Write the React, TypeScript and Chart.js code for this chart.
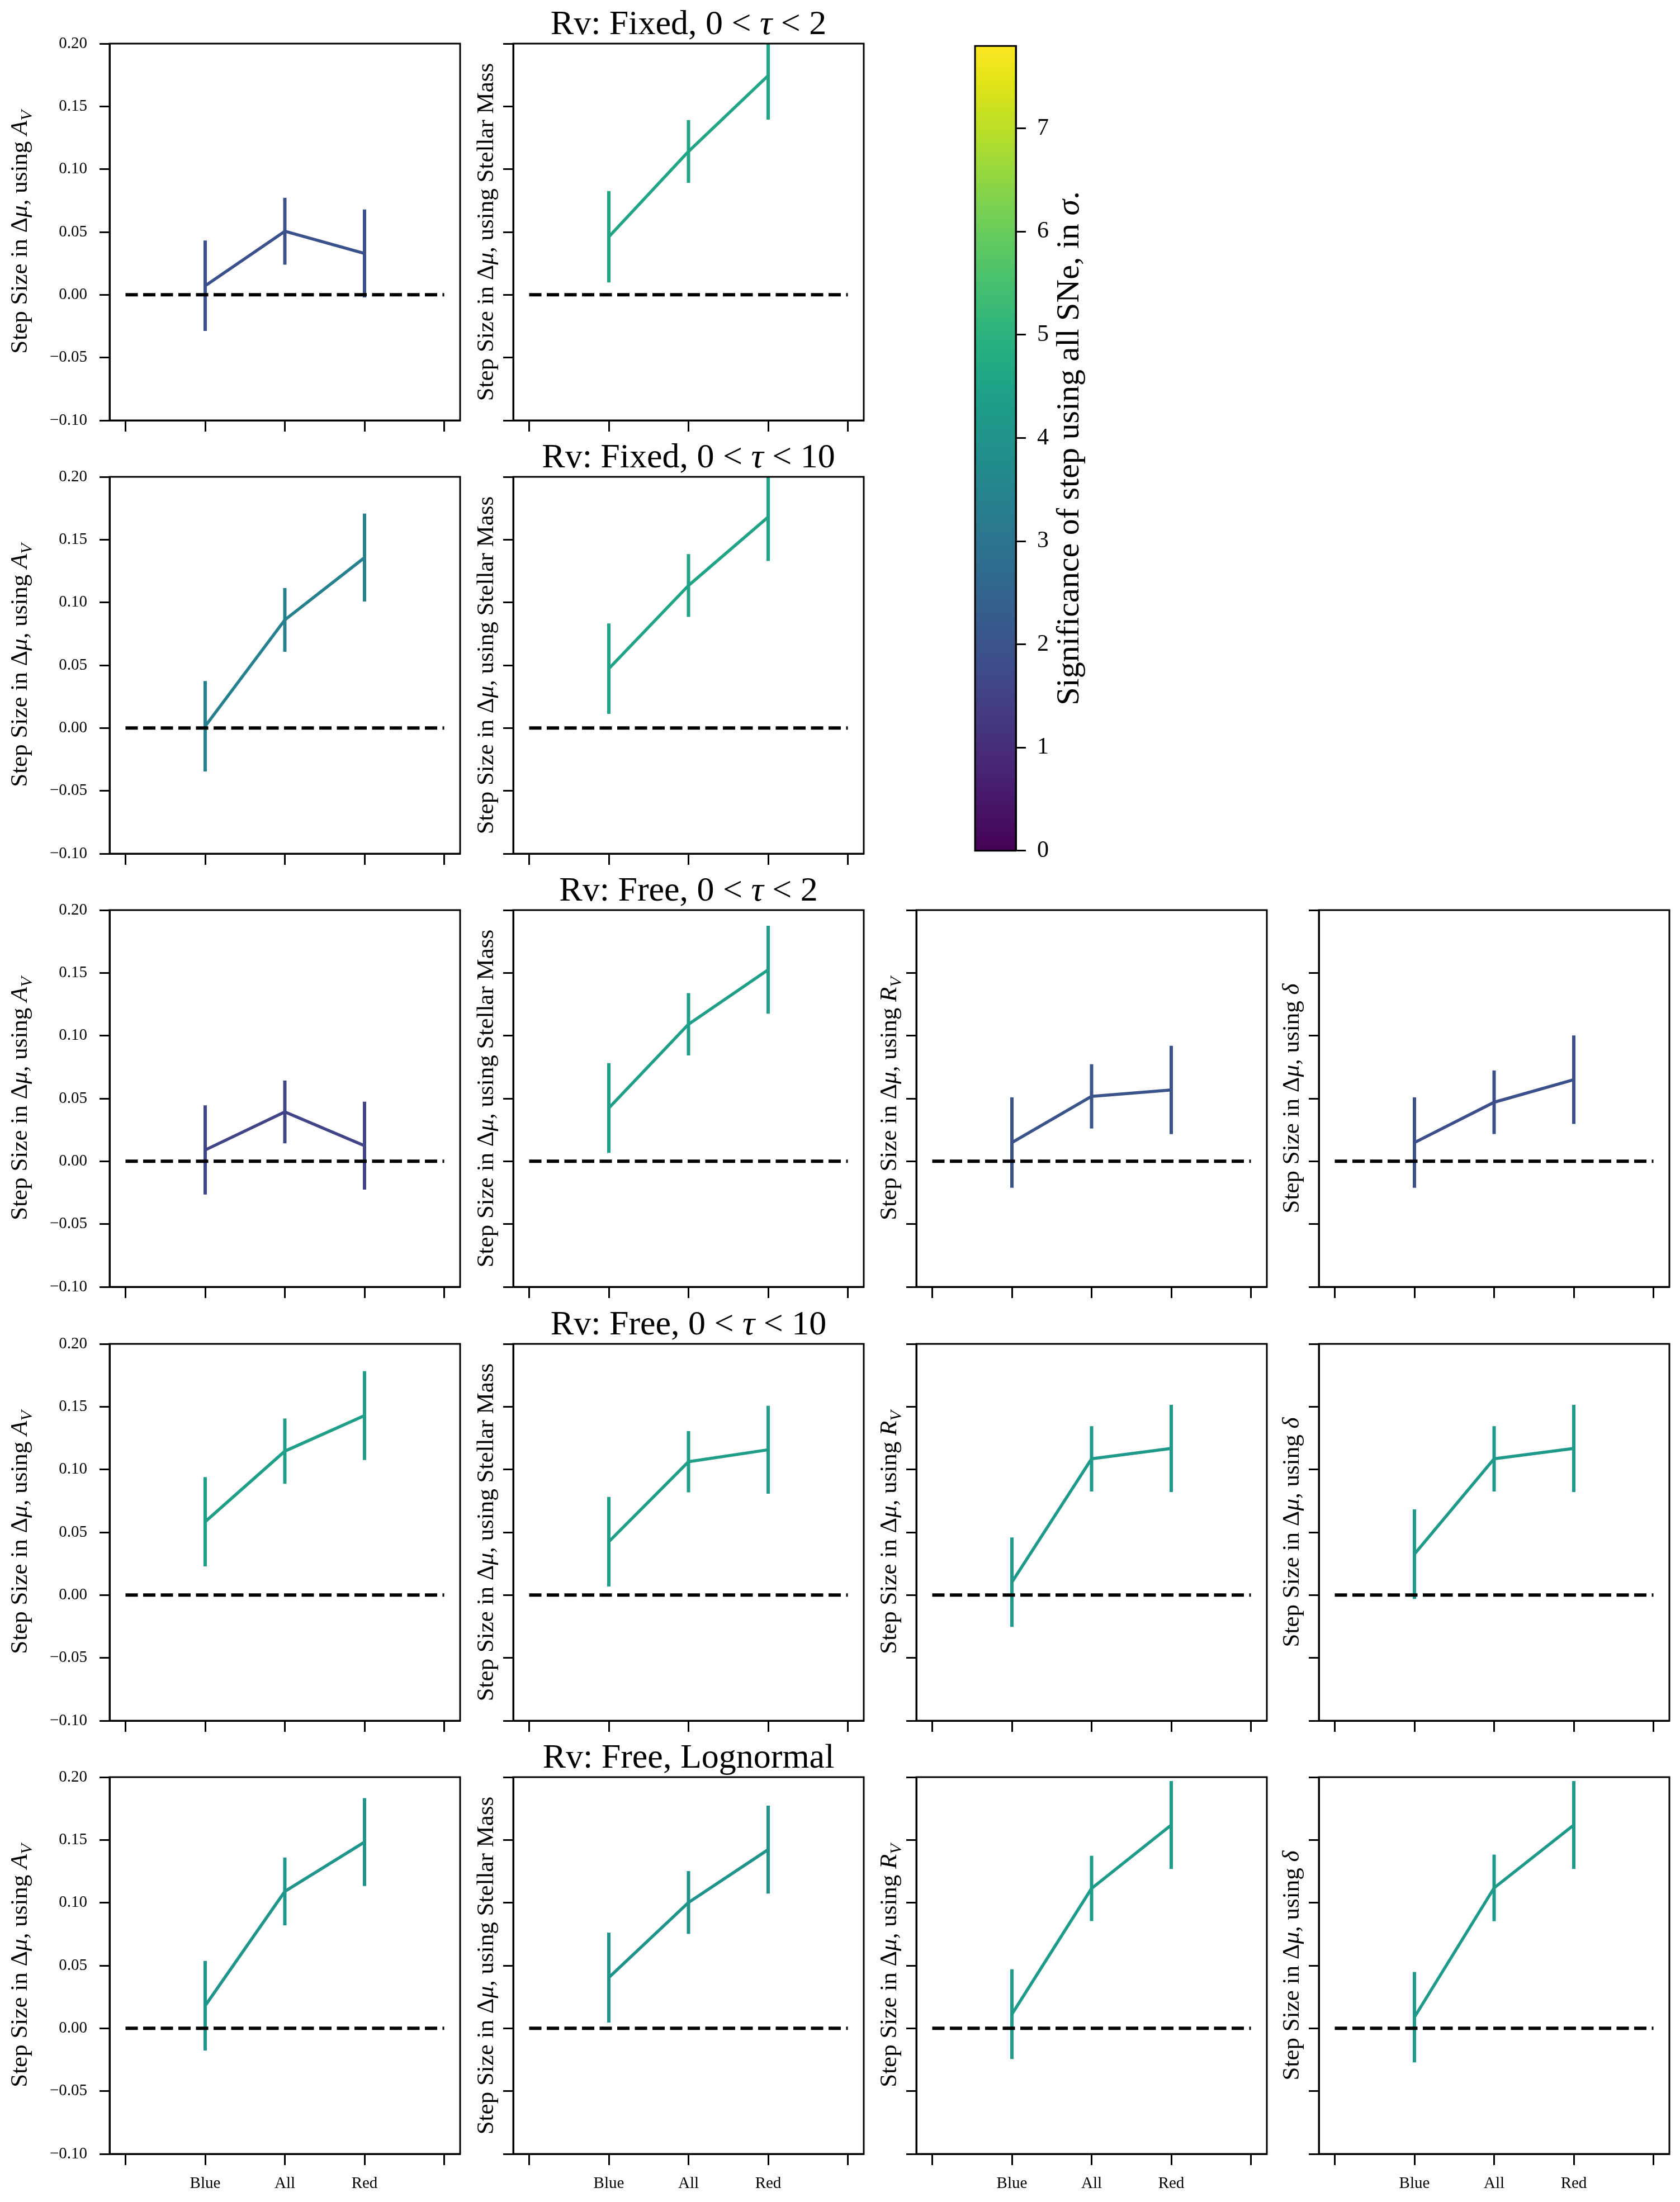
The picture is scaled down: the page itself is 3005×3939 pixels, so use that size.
import React, { useEffect, useRef } from 'react';
import { Chart, registerables } from 'chart.js';

Chart.register(...registerables);

// ---------------- data ----------------
const categories = ['Blue', 'All', 'Red'];
const xTickLabels = ['', 'Blue', 'All', 'Red', ''];
const yTickValues = [-0.1, -0.05, 0, 0.05, 0.1, 0.15, 0.2];
const colorbarTickValues = [0, 1, 2, 3, 4, 5, 6, 7];
const colorbarMax = 7.8;

const rowTitles = [
  'Rv: Fixed, 0 < τ < 2',
  'Rv: Fixed, 0 < τ < 10',
  'Rv: Free, 0 < τ < 2',
  'Rv: Free, 0 < τ < 10',
  'Rv: Free, Lognormal',
];

// step sizes (Blue, All, Red) per column: A_V, Stellar Mass, R_V, delta
const fixedTau2Steps = [
  [0.0072, 0.0506, 0.0329],
  [0.0462, 0.1141, 0.1745],
];
const fixedTau2Errors = [
  [0.036, 0.0266, 0.035],
  [0.0364, 0.025, 0.035],
];
const fixedTau2Sigma = [1.92, 4.57];

const fixedTau10Steps = [
  [0.0014, 0.0861, 0.1357],
  [0.0473, 0.1135, 0.168],
];
const fixedTau10Errors = [
  [0.036, 0.0254, 0.035],
  [0.036, 0.025, 0.035],
];
const fixedTau10Sigma = [3.39, 4.55];

const freeTau2Steps = [
  [0.009, 0.0393, 0.0124],
  [0.0424, 0.1091, 0.1525],
  [0.0149, 0.0517, 0.0568],
  [0.0149, 0.047, 0.065],
];
const freeTau2Errors = [
  [0.0355, 0.025, 0.035],
  [0.0357, 0.0248, 0.035],
  [0.036, 0.0256, 0.0352],
  [0.036, 0.0253, 0.0352],
];
const freeTau2Sigma = [1.57, 4.4, 2.02, 1.86];

const freeTau10Steps = [
  [0.0584, 0.1146, 0.1429],
  [0.0425, 0.1062, 0.1157],
  [0.0103, 0.1085, 0.1168],
  [0.0326, 0.1085, 0.1168],
];
const freeTau10Errors = [
  [0.0356, 0.026, 0.0354],
  [0.0357, 0.0244, 0.035],
  [0.0356, 0.026, 0.0347],
  [0.0357, 0.026, 0.0347],
];
const freeTau10Sigma = [4.4, 4.35, 4.17, 4.17];

const freeLognormalSteps = [
  [0.018, 0.109, 0.1483],
  [0.0404, 0.1002, 0.1423],
  [0.0113, 0.1114, 0.1619],
  [0.0089, 0.1118, 0.1619],
];
const freeLognormalErrors = [
  [0.0357, 0.027, 0.035],
  [0.0358, 0.025, 0.035],
  [0.0357, 0.026, 0.035],
  [0.036, 0.0265, 0.035],
];
const freeLognormalSigma = [4.04, 4.0, 4.28, 4.22];

const yAxisLabels: [string, string][][] = [
  [['Step Size in Δ', 'n'], ['μ', 'i'], [', using ', 'n'], ['A', 'i'], ['V', 's']],
  [['Step Size in Δ', 'n'], ['μ', 'i'], [', using Stellar Mass', 'n']],
  [['Step Size in Δ', 'n'], ['μ', 'i'], [', using ', 'n'], ['R', 'i'], ['V', 's']],
  [['Step Size in Δ', 'n'], ['μ', 'i'], [', using ', 'n'], ['δ', 'i']],
];
const colorbarLabel: [string, string][] = [
  ['Significance of step using all SNe, in ', 'n'],
  ['σ', 'i'],
  ['.', 'n'],
];

const viridisStops = [
  '#440154', '#471365', '#482475', '#463480', '#414487', '#3b528b', '#355f8d',
  '#2f6c8e', '#2a788e', '#25848e', '#21918c', '#1e9c89', '#22a884', '#2fb47c',
  '#44bf70', '#5ec962', '#7ad151', '#9bd93c', '#bddf26', '#dfe318', '#fde725',
];

// ---------------- layout ----------------
const FAMILY = "'Liberation Serif', 'Times New Roman', serif";
const COL_LEFT = [196, 918, 1639, 2359];
const ROW_TOP = [78, 853, 1628, 2404, 3179];
const AX_W = 627;
const AX_H = 674;
const PAD_L = 230;
const PAD_T = 110;
const PAD_R = 20;
const PAD_B = 90;
const TICK_FONT = 29;
const LABEL_FONT = 43;
const TITLE_FONT = 62;
const CB_TICK_FONT = 42;
const CB_LABEL_FONT = 58;

function hexToRgb(h: string) {
  return [parseInt(h.slice(1, 3), 16), parseInt(h.slice(3, 5), 16), parseInt(h.slice(5, 7), 16)];
}
function viridis(f: number) {
  const t = Math.max(0, Math.min(1, f)) * (viridisStops.length - 1);
  const i = Math.min(Math.floor(t), viridisStops.length - 2);
  const u = t - i;
  const a = hexToRgb(viridisStops[i]);
  const b = hexToRgb(viridisStops[i + 1]);
  const c = a.map((v, k) => Math.round(v + (b[k] - v) * u));
  return `rgb(${c[0]},${c[1]},${c[2]})`;
}

function drawRich(ctx: CanvasRenderingContext2D, segs: [string, string][], size: number, x: number, y: number, rotate: boolean) {
  ctx.save();
  ctx.translate(x, y);
  if (rotate) ctx.rotate(-Math.PI / 2);
  ctx.fillStyle = '#000';
  ctx.textBaseline = 'alphabetic';
  ctx.textAlign = 'left';
  const parts = segs.map(([t, s]) => {
    const sz = s === 's' ? size * 0.7 : size;
    const font = `${s === 'n' ? '' : 'italic '}${sz}px ${FAMILY}`;
    ctx.font = font;
    return { t, font, w: ctx.measureText(t).width, dy: s === 's' ? size * 0.2 : 0 };
  });
  const total = parts.reduce((acc, p) => acc + p.w, 0);
  let cx = -total / 2;
  for (const p of parts) {
    ctx.font = p.font;
    ctx.fillText(p.t, cx, p.dy);
    cx += p.w;
  }
  ctx.restore();
}

function titleSegments(title: string): [string, string][] {
  const out: [string, string][] = [];
  title.split(/(τ)/).forEach((s) => {
    if (s) out.push([s, s === 'τ' ? 'i' : 'n']);
  });
  return out;
}

function formatY(v: number) {
  const s = Math.abs(v).toFixed(2);
  return v < -1e-9 ? '−' + s : s;
}

function makePanelConfig(row: number, col: number, steps: number[], errs: number[], sigma: number): any {
  const color = viridis(sigma / colorbarMax);
  const isBottom = row === ROW_TOP.length - 1;
  const datasets: any[] = [];
  datasets.push({
    data: [{ x: 0, y: 0 }, { x: 4, y: 0 }],
    borderColor: '#000',
    borderWidth: 6,
    borderDash: [22, 9.5],
    pointRadius: 0,
    showLine: true,
    clip: 0,
  });
  datasets.push({
    data: steps.map((v, i) => ({ x: i + 1, y: v })),
    borderColor: color,
    borderWidth: 5.5,
    borderJoinStyle: 'round',
    pointRadius: 0,
    showLine: true,
    clip: 0,
  });
  categories.forEach((_, i) => {
    datasets.push({
      data: [{ x: i + 1, y: steps[i] - errs[i] }, { x: i + 1, y: steps[i] + errs[i] }],
      borderColor: color,
      borderWidth: 6,
      pointRadius: 0,
      showLine: true,
      clip: 0,
    });
  });

  const decor = {
    id: 'panelDecor',
    afterDraw(chart: any) {
      const { ctx, chartArea: a } = chart;
      ctx.save();
      ctx.strokeStyle = '#000';
      ctx.lineWidth = 3;
      ctx.strokeRect(a.left, a.top, a.right - a.left, a.bottom - a.top);
      ctx.restore();
      drawRich(ctx, yAxisLabels[col], LABEL_FONT, a.left - (col === 0 ? 148 : 36), (a.top + a.bottom) / 2, true);
      if (col === 1) {
        drawRich(ctx, titleSegments(rowTitles[row]), TITLE_FONT, (a.left + a.right) / 2, a.top - 17, false);
      }
    },
  };

  return {
    type: 'scatter',
    data: { datasets },
    plugins: [decor],
    options: {
      animation: false,
      responsive: false,
      devicePixelRatio: 1,
      events: [],
      layout: { padding: { left: 0, top: PAD_T, right: PAD_R, bottom: 0 } },
      plugins: { legend: { display: false }, tooltip: { enabled: false }, title: { display: false } },
      scales: {
        x: {
          type: 'linear',
          min: -0.2,
          max: 4.2,
          afterBuildTicks: (s: any) => {
            s.ticks = xTickLabels.map((_, i) => ({ value: i }));
          },
          afterFit: (s: any) => {
            s.height = PAD_B;
          },
          grid: { display: true, drawOnChartArea: false, drawTicks: true, tickLength: 20, tickWidth: 3, tickColor: '#000' },
          border: { display: true, color: '#000', width: 3 },
          ticks: {
            autoSkip: false,
            maxRotation: 0,
            color: '#000',
            padding: 16,
            font: { family: FAMILY, size: TICK_FONT },
            callback: (v: any) => (isBottom ? xTickLabels[Math.round(Number(v))] : ''),
          },
        },
        y: {
          type: 'linear',
          min: -0.1,
          max: 0.2,
          afterBuildTicks: (s: any) => {
            s.ticks = yTickValues.map((v) => ({ value: v }));
          },
          afterFit: (s: any) => {
            s.width = PAD_L;
          },
          grid: { display: true, drawOnChartArea: false, drawTicks: true, tickLength: 18, tickWidth: 3, tickColor: '#000' },
          border: { display: true, color: '#000', width: 3 },
          ticks: {
            autoSkip: false,
            color: '#000',
            padding: 22,
            font: { family: FAMILY, size: TICK_FONT },
            callback: (v: any) => (col === 0 ? formatY(Number(v)) : ''),
          },
        },
      },
    },
  };
}

function Panel({ row, col, steps, errs, sigma }: { row: number; col: number; steps: number[]; errs: number[]; sigma: number }) {
  const ref = useRef<HTMLCanvasElement>(null);
  const W = PAD_L + AX_W + PAD_R;
  const H = PAD_T + AX_H + PAD_B;
  useEffect(() => {
    const chart = new Chart(ref.current as HTMLCanvasElement, makePanelConfig(row, col, steps, errs, sigma));
    return () => chart.destroy();
  }, []);
  return (
    <canvas
      ref={ref}
      width={W}
      height={H}
      style={{ position: 'absolute', left: COL_LEFT[col] - PAD_L, top: ROW_TOP[row] - PAD_T, width: W, height: H }}
    />
  );
}

const CB_LEFT = 1744;
const CB_TOP = 77;
const CB_W = 73;
const CB_H = 1450;
const CB_PAD_L = 20;
const CB_PAD_V = 40;
const CB_AXIS_W = 240;

function Colorbar() {
  const ref = useRef<HTMLCanvasElement>(null);
  const W = CB_PAD_L + CB_W + CB_AXIS_W;
  const H = CB_H + 2 * CB_PAD_V;
  useEffect(() => {
    const fill = {
      id: 'cbFill',
      beforeDatasetsDraw(chart: any) {
        const { ctx, chartArea: a, scales } = chart;
        const y0 = scales.y.getPixelForValue(0);
        const y1 = scales.y.getPixelForValue(colorbarMax);
        const g = ctx.createLinearGradient(0, y0, 0, y1);
        viridisStops.forEach((c, i) => g.addColorStop(i / (viridisStops.length - 1), c));
        ctx.save();
        ctx.fillStyle = g;
        ctx.fillRect(a.left, a.top, a.right - a.left, a.bottom - a.top);
        ctx.restore();
      },
      afterDraw(chart: any) {
        const { ctx, chartArea: a } = chart;
        ctx.save();
        ctx.strokeStyle = '#000';
        ctx.lineWidth = 3;
        ctx.strokeRect(a.left, a.top, a.right - a.left, a.bottom - a.top);
        ctx.restore();
        drawRich(ctx, colorbarLabel, CB_LABEL_FONT, a.right + 112, (a.top + a.bottom) / 2, true);
      },
    };
    const chart = new Chart(ref.current as HTMLCanvasElement, {
      type: 'scatter',
      data: { datasets: [{ data: [] }] },
      plugins: [fill],
      options: {
        animation: false,
        responsive: false,
        devicePixelRatio: 1,
        events: [],
        layout: { padding: { left: CB_PAD_L, top: CB_PAD_V, right: 0, bottom: CB_PAD_V } },
        plugins: { legend: { display: false }, tooltip: { enabled: false } },
        scales: {
          x: { type: 'linear', display: false, min: 0, max: 1 },
          y: {
            type: 'linear',
            position: 'right',
            min: 0,
            max: colorbarMax,
            afterBuildTicks: (s: any) => {
              s.ticks = colorbarTickValues.map((v) => ({ value: v }));
            },
            afterFit: (s: any) => {
              s.width = CB_AXIS_W;
            },
            grid: { display: true, drawOnChartArea: false, drawTicks: true, tickLength: 18, tickWidth: 3, tickColor: '#000' },
            border: { display: true, color: '#000', width: 3 },
            ticks: {
              color: '#000',
              padding: 20,
              font: { family: FAMILY, size: CB_TICK_FONT },
              callback: (v: any) => String(Math.round(Number(v))),
            },
          },
        },
      } as any,
    } as any);
    return () => chart.destroy();
  }, []);
  return (
    <canvas
      ref={ref}
      width={W}
      height={H}
      style={{ position: 'absolute', left: CB_LEFT - CB_PAD_L, top: CB_TOP - CB_PAD_V, width: W, height: H }}
    />
  );
}

const rowSteps = [fixedTau2Steps, fixedTau10Steps, freeTau2Steps, freeTau10Steps, freeLognormalSteps];
const rowErrors = [fixedTau2Errors, fixedTau10Errors, freeTau2Errors, freeTau10Errors, freeLognormalErrors];
const rowSigma = [fixedTau2Sigma, fixedTau10Sigma, freeTau2Sigma, freeTau10Sigma, freeLognormalSigma];

export default function App() {
  const panels: JSX.Element[] = [];
  rowSteps.forEach((cols, r) => {
    cols.forEach((steps, c) => {
      panels.push(
        <Panel key={`${r}-${c}`} row={r} col={c} steps={steps} errs={rowErrors[r][c]} sigma={rowSigma[r][c]} />
      );
    });
  });
  return (
    <div
      style={{
        position: 'absolute',
        left: 0,
        top: 0,
        width: 3005,
        height: 3939,
        background: '#fff',
        overflow: 'hidden',
      }}
    >
      {panels}
      <Colorbar />
    </div>
  );
}
